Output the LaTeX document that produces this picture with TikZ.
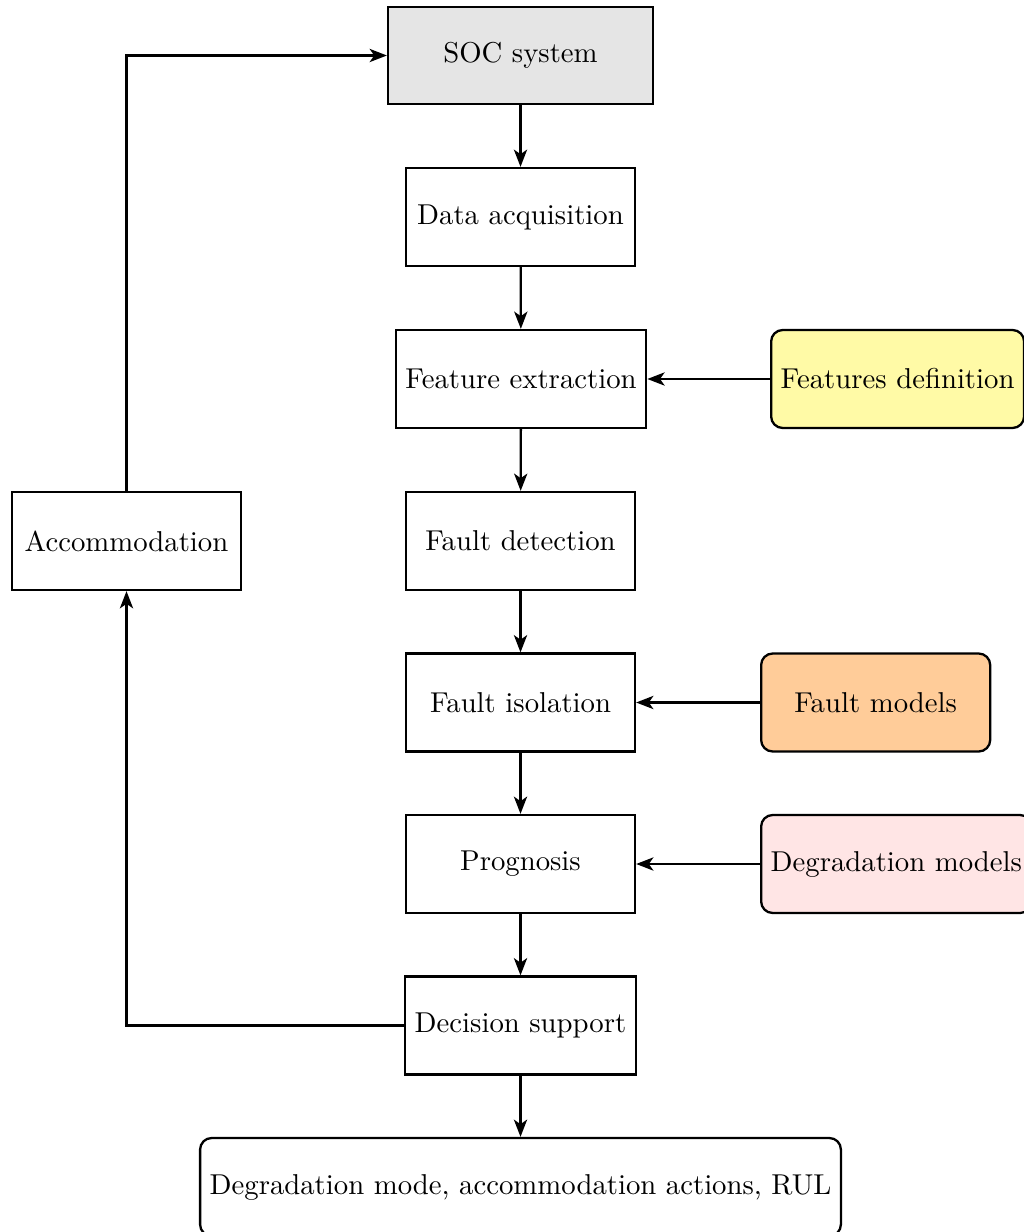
\documentclass[tikz,border=0pt]{standalone}
\usetikzlibrary{arrows.meta}
\begin{document}
\begin{tikzpicture}[x=0.348pt,y=-0.348pt,
  box/.style={draw,thick,minimum width=79.7pt,minimum height=34.1pt,align=center},
  src/.style={box,rounded corners=4pt},
  arr/.style={thick,-{Stealth[length=6pt,width=4.6pt,inset=1.6pt]}},
  ln/.style={thick}]
\useasboundingbox (0,0) rectangle (1023,1232);
\node[box,fill=black!10,minimum width=92.2pt,minimum height=33.8pt] (soc) at (520.5,55.5) {SOC system};
\node[box] (daq) at (520.5,217) {Data acquisition};
\node[box] (fe) at (521,379) {Feature extraction};
\node[box] (fd) at (520.5,541) {Fault detection};
\node[box] (fi) at (520.5,702.5) {Fault isolation};
\node[box] (pr) at (520.5,864) {Prognosis};
\node[box] (ds) at (520.5,1025.5) {Decision support};
\node[box,rounded corners=4pt] (out) at (520.5,1187) {Degradation mode, accommodation actions, RUL};
\node[box] (acc) at (126.5,541) {Accommodation};
\node[src,fill=yellow!35,anchor=west] (fdef) at (770,379) {Features definition};
\node[src,fill=orange!40,anchor=west] (fm) at (760,702.5) {Fault models};
\node[src,fill=red!10,anchor=west] (dm) at (760,864) {Degradation models};
\draw[arr] (soc) -- (daq);
\draw[arr] (daq) -- (fe);
\draw[arr] (fe) -- (fd);
\draw[arr] (fd) -- (fi);
\draw[arr] (fi) -- (pr);
\draw[arr] (pr) -- (ds);
\draw[arr] (ds) -- (out);
\draw[arr] (fdef) -- (fe);
\draw[arr] (fm) -- (fi);
\draw[arr] (dm) -- (pr);
\draw[arr] (ds.west) -| (acc.south);
\draw[arr] (acc.north) |- (soc.west);
\end{tikzpicture}
\end{document}
